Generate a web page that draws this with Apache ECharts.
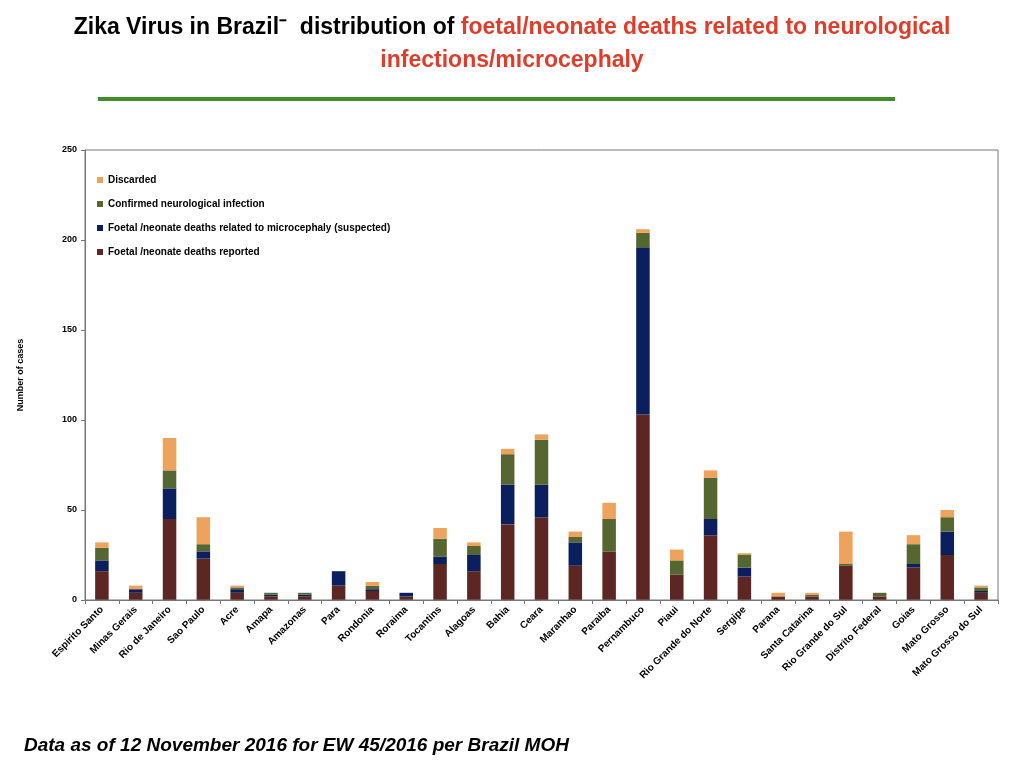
<!DOCTYPE html>
<html><head><meta charset="utf-8">
<script src="https://cdn.jsdelivr.net/npm/echarts@6/dist/echarts.min.js"></script>
<style>body{margin:0;background:#fff}#c{width:1024px;height:768px}</style>
</head><body><div id="c"></div>
<script>
// states along the x axis
const states = ['Espirito Santo','Minas Gerais','Rio de Janeiro','Sao Paulo','Acre','Amapa','Amazonas','Para','Rondonia','Roraima','Tocantins','Alagoas','Bahia','Ceara','Maranhao','Paraiba','Pernambuco','Piaui','Rio Grande do Norte','Sergipe','Parana','Santa Catarina','Rio Grande do Sul','Distrito Federal','Goias','Mato Grosso','Mato Grosso do Sul'];
const reported   = [16,4,45,23,4,2,2,8,5,2,20,16,42,46,19,27,103,14,36,13,2,2,19,2,18,25,4];
const suspected  = [6,2,17,4,2,1,1,8,1,2,4,9,22,18,13,0,93,0,9,5,0,0,0,0,2,13,1];
const confirmed  = [7,0,10,4,1,1,1,0,2,0,10,5,17,25,3,18,8,8,23,7,0,1,1,2,11,8,2];
const discarded  = [3,2,18,15,1,0,0,0,2,0,6,2,3,3,3,9,2,6,4,1,2,1,18,0,5,4,1];

const chart = echarts.init(document.getElementById('c'));
const ff = 'Liberation Sans, Arial, sans-serif';
function bar(name, data, color) {
  return {name: name, type: 'bar', stack: 'all', data: data, barWidth: '40%',
    itemStyle: {color: color}};
}
chart.setOption({
  animation: false,
  textStyle: {fontFamily: ff},
  title: {
    text: '{b|Zika Virus in Brazil⁻  distribution of }{r|foetal/neonate deaths related to neurological}\n{r|infections/microcephaly}',
    left: 'center', top: 6,
    textStyle: {rich: {
      b: {fontSize: 23, fontWeight: 'bold', color: '#000', fontFamily: ff, lineHeight: 33},
      r: {fontSize: 23, fontWeight: 'bold', color: '#e03c2a', fontFamily: ff, lineHeight: 33}
    }, align: 'center'}
  },
  graphic: [
    {type: 'line', shape: {x1: 98, y1: 99, x2: 895, y2: 99}, style: {stroke: '#3e8e2a', lineWidth: 4}},
    {type: 'text', left: 24, top: 736, style: {text: 'Data as of 12 November 2016 for EW 45/2016 per Brazil MOH',
      font: 'italic bold 19px ' + ff, fill: '#000'}},
    {type: 'rect', shape: {x: 85, y: 150, width: 913, height: 450}, style: {fill: 'none', stroke: '#777', lineWidth: 1}, z: 10}
  ],
  legend: {
    orient: 'vertical', left: 92, top: 170, itemGap: 14, itemWidth: 6, itemHeight: 6, icon: 'rect',
    data: ['Discarded','Confirmed neurological infection','Foetal /neonate deaths related to microcephaly (suspected)','Foetal /neonate deaths reported'],
    textStyle: {fontSize: 10, fontWeight: 'bold', color: '#000', fontFamily: ff}
  },
  grid: {left: 85, right: 26, top: 150, bottom: 168},
  xAxis: {
    type: 'category', data: states,
    axisLine: {lineStyle: {color: '#777'}},
    axisTick: {show: true, length: 4, lineStyle: {color: '#777'}},
    axisLabel: {rotate: 45, interval: 0, fontSize: 10, fontWeight: 'bold', color: '#000', margin: 8}
  },
  yAxis: {
    type: 'value', min: 0, max: 250, interval: 50,
    name: 'Number of cases', nameLocation: 'middle', nameGap: 60, nameRotate: 90,
    nameTextStyle: {fontSize: 9, fontWeight: 'bold', color: '#000'},
    axisLine: {show: true, lineStyle: {color: '#777'}},
    axisTick: {show: true, length: 4, lineStyle: {color: '#777'}},
    splitLine: {show: false},
    axisLabel: {fontSize: 9, fontWeight: 'bold', color: '#000'}
  },
  series: [
    bar('Foetal /neonate deaths reported', reported, '#5c2723'),
    bar('Foetal /neonate deaths related to microcephaly (suspected)', suspected, '#0b1f5e'),
    bar('Confirmed neurological infection', confirmed, '#566630'),
    bar('Discarded', discarded, '#eda35c')
  ]
});
</script></body></html>
